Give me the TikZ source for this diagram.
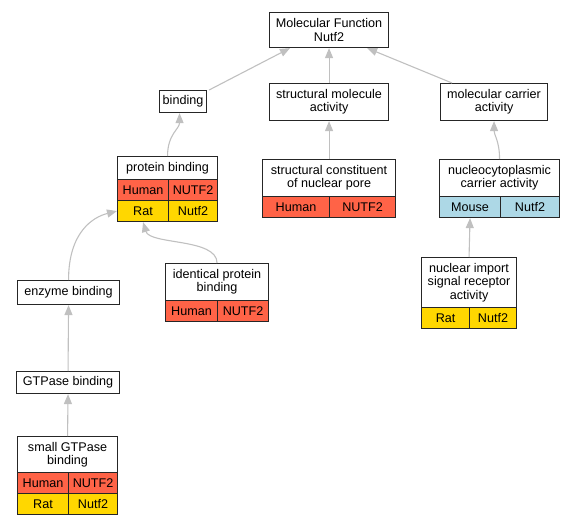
\documentclass[tikz,border=0pt]{standalone}
\usepackage{fontspec}
\setmainfont{Liberation Sans}
\usetikzlibrary{arrows.meta}
\definecolor{edgec}{HTML}{C0C0C0}
\definecolor{boxc}{HTML}{262626}
\definecolor{human}{HTML}{FF6347}
\definecolor{rat}{HTML}{FFD700}
\definecolor{mouse}{HTML}{ADD8E6}
\tikzset{
  gbox/.style={draw=boxc, line width=1.1pt, fill=white, inner sep=0pt, align=center,
    font=\fontsize{12.6}{13.2}\selectfont},
  hum/.style={gbox, fill=human},
  ratc/.style={gbox, fill=rat},
  mou/.style={gbox, fill=mouse},
  edge/.style={draw=edgec, line width=1.1pt, -{Triangle[length=10pt,width=8pt]}}
}
\newcommand\bx[7][]{\node[gbox,#1,anchor=north west,minimum width={(#4-#2)*1pt},minimum height={(#5-#3)*1pt}] (#6) at (#2,#3) {#7};}
\begin{document}
\begin{tikzpicture}[x=1pt,y=-1pt]
\useasboundingbox (0,0) rectangle (573,525);
% top
\bx{269}{12}{388}{47}{mf}{Molecular Function\\Nutf2}
\bx{159}{90}{206}{112}{bind}{binding}
\bx{269}{83}{388}{120}{sma}{structural molecule\\activity}
\bx{440}{83}{547}{120}{mca}{molecular carrier\\activity}
% protein binding
\bx{117}{156}{217}{179}{pb}{protein binding}
\bx[hum]{117}{179}{168}{200}{pbh1}{Human}
\bx[hum]{168}{179}{217}{200}{pbh2}{NUTF2}
\bx[ratc]{117}{200}{168}{221}{pbr1}{Rat}
\bx[ratc]{168}{200}{217}{221}{pbr2}{Nutf2}
% structural constituent
\bx{262}{159}{395}{196}{scnp}{structural constituent\\of nuclear pore}
\bx[hum]{262}{196}{329}{217}{scnph1}{Human}
\bx[hum]{329}{196}{395}{217}{scnph2}{NUTF2}
% nucleocytoplasmic
\bx{439}{159}{559}{196}{nca}{nucleocytoplasmic\\carrier activity}
\bx[mou]{439}{196}{500}{217}{ncam1}{Mouse}
\bx[mou]{500}{196}{559}{217}{ncam2}{Nutf2}
% nuclear import
\bx{421}{257}{516}{307}{nis}{nuclear import\\signal receptor\\activity}
\bx[ratc]{421}{307}{469}{328}{nisr1}{Rat}
\bx[ratc]{469}{307}{516}{328}{nisr2}{Nutf2}
% enzyme binding
\bx{17}{280}{119}{304}{enz}{enzyme binding}
% identical protein binding
\bx{165}{263}{268}{300}{ipb}{identical protein\\binding}
\bx[hum]{165}{300}{217}{321}{ipbh1}{Human}
\bx[hum]{217}{300}{268}{321}{ipbh2}{NUTF2}
% GTPase
\bx{16}{371}{119}{393}{gtp}{GTPase binding}
% small GTPase
\bx{17}{436}{117}{472}{sgb}{small GTPase\\binding}
\bx[hum]{17}{472}{68}{493}{sgbh1}{Human}
\bx[hum]{68}{472}{117}{493}{sgbh2}{NUTF2}
\bx[ratc]{17}{493}{68}{514}{sgbr1}{Rat}
\bx[ratc]{68}{493}{117}{514}{sgbr2}{Nutf2}
% edges
\draw[edge] ([xshift=2pt]bind.north east) -- ([xshift=21pt]mf.south west);
\draw[edge] (sma.north) -- (mf.south);
\draw[edge] ([xshift=12pt]mca.north west) -- ([xshift=-22pt]mf.south east);
\draw[edge] (pb.north) .. controls +(0,-22) and +(0,16) .. ([xshift=-3.5pt]bind.south);
\draw[edge] (scnp.north) -- (sma.south);
\draw[edge] (nca.north) .. controls +(0,-18) and +(0,14) .. (mca.south);
\draw[edge] (enz.north) .. controls +(0,-48) and +(-24,6) .. (pbr1.west);
\draw[edge] (ipb.north) .. controls (217,238) and (150,245) .. (pbr1.south);
\draw[edge] (gtp.north) -- (enz.south);
\draw[edge] (sgb.north) -- (gtp.south);
\draw[edge] (nis.north) -- (ncam1.south);
\end{tikzpicture}
\end{document}
